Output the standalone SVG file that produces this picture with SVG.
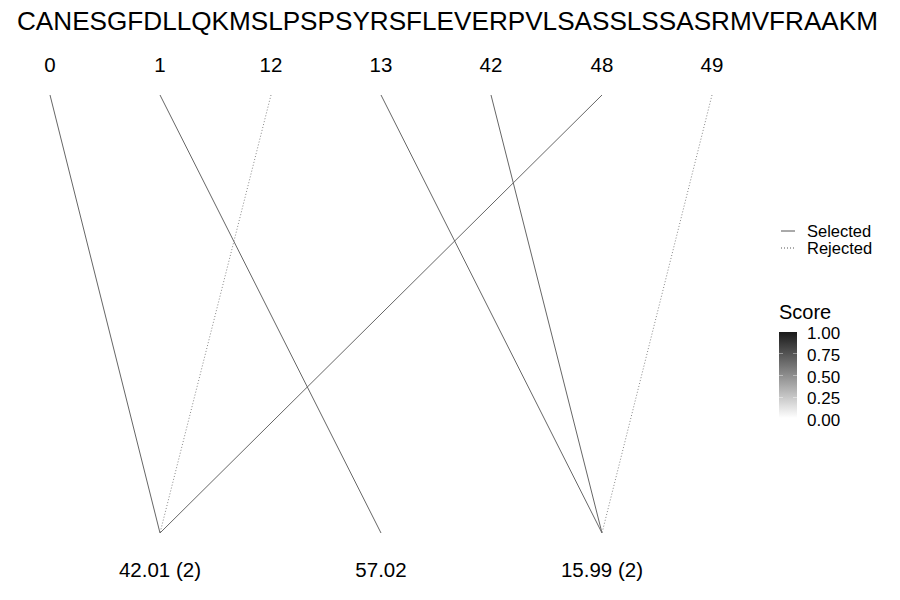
<svg xmlns="http://www.w3.org/2000/svg" width="900" height="600" viewBox="0 0 900 600">
<defs>
<linearGradient id="g" x1="0" y1="1" x2="0" y2="0">
<stop offset="0" stop-color="#ffffff"/>
<stop offset="1" stop-color="#1a1a1a"/>
</linearGradient>
<style>
text{font-family:"Liberation Sans",Arial,sans-serif;fill:#000}
.seq{font-size:25px}
.lab{font-size:20.5px;text-anchor:middle}
.sel{stroke:#666;stroke-width:1;fill:none}
.rej{stroke:#888;stroke-width:1;stroke-dasharray:1,2;fill:none}
.leg{font-size:16.5px}
.tk{font-size:17px}
.tick{stroke:#fff;stroke-opacity:0.4;stroke-width:1}
</style>
</defs>
<rect width="900" height="600" fill="#fff"/>
<text class="seq" x="17" y="30" textLength="861" lengthAdjust="spacingAndGlyphs">CANESGFDLLQKMSLPSPSYRSFLEVERPVLSASSLSSASRMVFRAAKM</text>
<g id="top-labels">
<g id="n0"><text class="lab" x="50" y="72">0</text></g>
<g id="n1"><text class="lab" x="160" y="72">1</text></g>
<g id="n12"><text class="lab" x="271" y="72">12</text></g>
<g id="n13"><text class="lab" x="381" y="72">13</text></g>
<g id="n42"><text class="lab" x="491" y="72">42</text></g>
<g id="n48"><text class="lab" x="602" y="72">48</text></g>
<g id="n49"><text class="lab" x="712" y="72">49</text></g>
</g>
<g id="connectors">
<line class="sel" x1="50" y1="95" x2="160" y2="533"/>
<line class="sel" x1="160" y1="95" x2="381" y2="533"/>
<line class="rej" x1="271" y1="95" x2="160" y2="533"/>
<line class="sel" x1="381" y1="95" x2="602" y2="533"/>
<line class="sel" x1="491" y1="95" x2="602" y2="533"/>
<line class="sel" x1="602" y1="95" x2="160" y2="533"/>
<line class="rej" x1="712" y1="95" x2="602" y2="533"/>
</g>
<g id="bottom-labels">
<g id="m1"><text class="lab" x="160" y="577">42.01 (2)</text></g>
<g id="m2"><text class="lab" x="381" y="577">57.02</text></g>
<g id="m3"><text class="lab" x="602" y="577">15.99 (2)</text></g>
</g>
<g id="legend-lines">
<line class="sel" x1="781" y1="231" x2="795" y2="231" style="stroke:#555"/>
<line class="rej" x1="781" y1="248" x2="795" y2="248" style="stroke:#555"/>
<text class="leg" x="807" y="237">Selected</text>
<text class="leg" x="807" y="254">Rejected</text>
</g>
<g id="legend-score">
<text x="779" y="319" style="font-size:20px">Score</text>
<rect x="779" y="332" width="18" height="86" fill="url(#g)"/>
<line class="tick" x1="779" y1="353.5" x2="783" y2="353.5"/>
<line class="tick" x1="793" y1="353.5" x2="797" y2="353.5"/>
<line class="tick" x1="779" y1="375.5" x2="783" y2="375.5"/>
<line class="tick" x1="793" y1="375.5" x2="797" y2="375.5"/>
<line class="tick" x1="779" y1="397.5" x2="783" y2="397.5"/>
<line class="tick" x1="793" y1="397.5" x2="797" y2="397.5"/>
<text class="tk" x="807" y="339">1.00</text>
<text class="tk" x="807" y="361">0.75</text>
<text class="tk" x="807" y="383">0.50</text>
<text class="tk" x="807" y="404">0.25</text>
<text class="tk" x="807" y="426">0.00</text>
</g>
</svg>
